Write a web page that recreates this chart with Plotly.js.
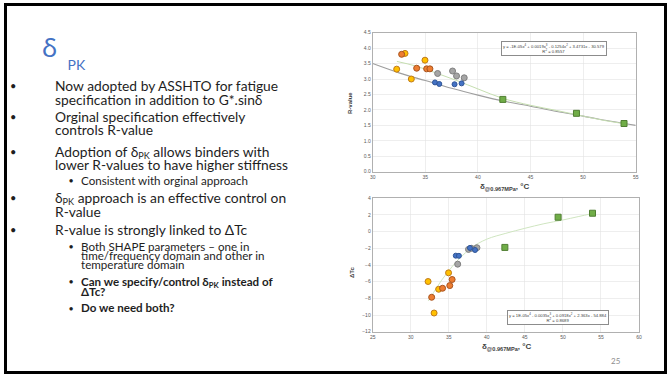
<!DOCTYPE html>
<html>
<head>
<meta charset="utf-8">
<script src="https://cdn.plot.ly/plotly-3.0.1.min.js"></script>
<style>
html,body{margin:0;padding:0;background:#fff;}
#wrap{position:relative;width:667px;height:378px;overflow:hidden;}
#chart{position:absolute;left:0;top:0;width:667px;height:378px;}
#slide{position:absolute;left:0;top:0;width:667px;height:378px;pointer-events:none;
  font-family:Lato,"Open Sans",sans-serif;color:#1e1e1e;}
.ln{position:absolute;white-space:nowrap;}
.ln sub{font-size:0.66em;vertical-align:-0.25em;line-height:0;}
</style>
</head>
<body>
<div id="wrap">
  <div id="chart"></div>
  <div id="slide"></div>
</div>
<script>
// ---- Data ----
// Top chart: R-value vs delta_PK
var yellowDelta = [32.28, 33.07, 33.67, 34.97];
var yellowR     = [3.32, 3.83, 3.00, 3.61];
var orangeDelta = [32.75, 34.18, 35.13, 35.44];
var orangeR     = [3.80, 3.35, 3.33, 3.33];
var grayDelta   = [36.17, 37.59, 37.97, 38.70];
var grayR       = [3.18, 3.26, 3.10, 3.04];
var blueDelta   = [35.92, 36.33, 37.78, 38.45];
var blueR       = [2.89, 2.84, 2.83, 2.86];
var greenDelta  = [42.37, 49.37, 53.89];
var greenR      = [2.34, 1.89, 1.56];

// Top chart reference curve (gray) and polynomial trend (green)
var refCurveX = [30, 32.5, 35, 37.5, 40, 42.5, 45, 47.5, 50, 52.5, 55];
var refCurveY = [3.50, 3.20, 2.95, 2.70, 2.48, 2.28, 2.12, 1.95, 1.80, 1.64, 1.50];
var rTrendX = [32.3, 34, 36, 38, 40, 42.4, 45, 47.5, 50, 52, 54];
var rTrendY = [3.57, 3.43, 3.20, 2.95, 2.68, 2.37, 2.15, 1.98, 1.80, 1.66, 1.55];

// Bottom chart: Delta Tc vs delta_PK
var yellowTc = [-5.98, -9.76, -6.91, -4.94];
var orangeTc = [-7.87, -6.79, -6.47, -5.74];
var grayTc   = [-3.90, -2.13, -2.00, -1.93];
var blueTc   = [-2.88, -2.90, -1.95, -2.20];
var greenTc  = [-1.89, 1.73, 2.21];
var tcTrendX = [32.3, 33, 34, 35, 36, 37, 38, 40, 42.5, 45, 47.5, 50, 52, 54];
var tcTrendY = [-8.3, -7.3, -5.9, -4.7, -3.6, -2.7, -1.9, -0.9, -0.2, 0.4, 0.95, 1.4, 1.8, 2.2];

var topEquation = "y = -1E-05x<sup>4</sup> + 0.0019x<sup>3</sup> - 0.1254x<sup>2</sup> + 3.4731x - 30.579<br>R<sup>2</sup> = 0.8557";
var bottomEquation = "y = 1E-05x<sup>4</sup> - 0.0035x<sup>3</sup> + 0.0918x<sup>2</sup> + 2.363x - 54.884<br>R<sup>2</sup> = 0.8689";
var xTitleText = "<b>δ<sub>@0.967MPa</sub>, °C</b>";

// ---- Slide text (paragraphs; y = centre of first line) ----
var mainParas = [
  {lines: ["Now adopted by ASSHTO for fatigue", "specification in addition to G*.sinδ"], y: 86},
  {lines: ["Orginal specification effectively", "controls R-value"], y: 116.7},
  {lines: ["Adoption of δ<sub>PK</sub> allows binders with", "lower R-values to have higher stiffness"], y: 151.7},
  {lines: ["δ<sub>PK</sub> approach is an effective control on", "R-value"], y: 198},
  {lines: ["R-value is strongly linked to ΔTc"], y: 230}
];
var subParas = [
  {lines: ["Consistent with orginal approach"], y: 180.5, lh: 9},
  {lines: ["Both SHAPE parameters – one in", "time/frequency domain and other in", "temperature domain"], y: 246, lh: 9},
  {lines: ["<b>Can we specify/control δ<sub>PK</sub> instead of</b>", "<b>ΔTc?</b>"], y: 281.7, lh: 10},
  {lines: ["<b>Do we need both?</b>"], y: 308.3, lh: 10}
];

var W = 667, H = 378;
function px(x){ return x / W; }
function py(y){ return 1 - y / H; }

// ---- HTML slide text ----
var slide = document.getElementById('slide');
function addBlock(html, left, cy, size, lh, extra){
  var d = document.createElement('div');
  d.className = 'ln';
  d.innerHTML = html;
  d.style.left = left + 'px';
  d.style.top = (cy - lh / 2) + 'px';
  d.style.fontSize = size + 'px';
  d.style.lineHeight = lh + 'px';
  if (extra) for (var k in extra) d.style[k] = extra[k];
  slide.appendChild(d);
}
addBlock('δ', 42, 46.5, 26, 24, {fontFamily: '"Noto Sans", sans-serif', color: '#4472c4'});
addBlock('PK', 67.5, 64.5, 14, 13, {color: '#4472c4'});
mainParas.forEach(function(p){
  addBlock('•', 10, p.y, 11, 12);
  addBlock(p.lines.join('<br>'), 55, p.y, 13.8, 13.3);
});
subParas.forEach(function(p){
  addBlock('•', 68.5, p.y, 9, 9);
  addBlock(p.lines.join('<br>'), 81, p.y, 11.6, p.lh);
});

// ---- Plotly chart ----
function markerTrace(x, y, fill, edge, size, sym, xa, ya){
  return {x: x, y: y, type: 'scatter', mode: 'markers', xaxis: xa, yaxis: ya,
    marker: {color: fill, size: size, symbol: sym, line: {color: edge, width: 1}},
    hoverinfo: 'x+y'};
}
function lineTrace(x, y, color, width, xa, ya){
  return {x: x, y: y, type: 'scatter', mode: 'lines', xaxis: xa, yaxis: ya,
    line: {color: color, width: width, shape: 'spline'}, hoverinfo: 'skip'};
}

var traces = [
  lineTrace(refCurveX, refCurveY, '#9e9e9e', 1.1, 'x', 'y'),
  lineTrace(rTrendX, rTrendY, '#c5deb0', 1, 'x', 'y'),
  markerTrace(yellowDelta, yellowR, '#ffc000', '#c07a1a', 6, 'circle', 'x', 'y'),
  markerTrace(orangeDelta, orangeR, '#ed7d31', '#a9541e', 6, 'circle', 'x', 'y'),
  markerTrace(grayDelta, grayR, '#a5a5a5', '#7f7f7f', 6, 'circle', 'x', 'y'),
  markerTrace(blueDelta, blueR, '#4472c4', '#2f5597', 5, 'circle', 'x', 'y'),
  markerTrace(greenDelta, greenR, '#70ad47', '#507e32', 6, 'square', 'x', 'y'),

  lineTrace(tcTrendX, tcTrendY, '#cfe5c0', 1, 'x2', 'y2'),
  markerTrace(yellowDelta, yellowTc, '#ffc000', '#c07a1a', 6, 'circle', 'x2', 'y2'),
  markerTrace(orangeDelta, orangeTc, '#ed7d31', '#a9541e', 6, 'circle', 'x2', 'y2'),
  markerTrace(grayDelta, grayTc, '#a5a5a5', '#7f7f7f', 6, 'circle', 'x2', 'y2'),
  markerTrace(blueDelta, blueTc, '#4472c4', '#2f5597', 5, 'circle', 'x2', 'y2'),
  markerTrace(greenDelta, greenTc, '#70ad47', '#507e32', 6, 'square', 'x2', 'y2')
];

var tickFont = {family: 'Liberation Sans, Arial, sans-serif', size: 5, color: '#595959'};
function axisBase(){
  return {showgrid: true, gridcolor: '#e2e2e2', gridwidth: 0.6, zeroline: false,
    showline: true, linecolor: '#b0b0b0', linewidth: 1, mirror: true,
    ticks: '', tickfont: tickFont, fixedrange: true};
}
var xaxis = Object.assign(axisBase(), {domain: [px(372.7), px(635.7)], range: [30, 55], dtick: 5, tick0: 30, anchor: 'y'});
var yaxis = Object.assign(axisBase(), {domain: [py(171.7), py(32.7)], range: [0, 4.5], dtick: 0.5, tick0: 0, tickformat: '.1f', anchor: 'x'});
var xaxis2 = Object.assign(axisBase(), {domain: [px(372.7), px(639)], range: [25, 60], dtick: 5, tick0: 25, anchor: 'y2'});
var yaxis2 = Object.assign(axisBase(), {domain: [py(331.7), py(198.3)], range: [-12, 4], dtick: 2, tick0: -12, anchor: 'x2'});

var annotations = [];
function ann(o){
  annotations.push(Object.assign({xref: 'paper', yref: 'paper', showarrow: false}, o));
}
var axFont = {family: 'Liberation Sans, Arial, sans-serif', size: 6, color: '#404040'};
ann({x: px(350), y: py(103), textangle: -90, xanchor: 'center', yanchor: 'middle', text: '<b>R-value</b>', font: axFont});
ann({x: px(352), y: py(272), textangle: -90, xanchor: 'center', yanchor: 'middle', text: '<b>ΔTc</b>', font: axFont});
ann({x: px(504), y: py(186.5), xanchor: 'center', yanchor: 'middle', text: xTitleText,
  font: {family: 'Liberation Sans, Arial, sans-serif', size: 8, color: '#404040'}});
ann({x: px(506), y: py(347), xanchor: 'center', yanchor: 'middle', text: xTitleText,
  font: {family: 'Liberation Sans, Arial, sans-serif', size: 8, color: '#404040'}});

ann({x: px(553.8), y: py(48.4), xanchor: 'center', yanchor: 'middle', text: topEquation,
  font: {family: 'Liberation Sans, Arial, sans-serif', size: 4.2, color: '#404040'},
  bgcolor: '#ffffff', bordercolor: '#8c8c8c', borderwidth: 1, borderpad: 1});
ann({x: px(558), y: py(317), xanchor: 'center', yanchor: 'middle', text: bottomEquation,
  font: {family: 'Liberation Sans, Arial, sans-serif', size: 4.2, color: '#404040'},
  bgcolor: '#ffffff', bordercolor: '#8c8c8c', borderwidth: 1, borderpad: 1});

ann({x: px(615.7), y: py(360.7), xanchor: 'center', yanchor: 'middle', text: '25',
  font: {family: 'Lato, sans-serif', size: 8, color: '#8c8c8c'}});

var shapes = [
  {type: 'rect', xref: 'paper', yref: 'paper', x0: px(5.5), x1: px(665.5), y0: py(372.5), y1: py(4.5),
   line: {color: '#000000', width: 3}, fillcolor: 'rgba(0,0,0,0)', layer: 'above'}
];

var layout = {
  width: W, height: H, margin: {l: 0, r: 0, t: 0, b: 0, pad: 0},
  paper_bgcolor: '#ffffff', plot_bgcolor: '#ffffff', showlegend: false,
  xaxis: xaxis, yaxis: yaxis, xaxis2: xaxis2, yaxis2: yaxis2,
  annotations: annotations, shapes: shapes
};

Plotly.newPlot('chart', traces, layout, {displayModeBar: false, staticPlot: true});
</script>
</body>
</html>
